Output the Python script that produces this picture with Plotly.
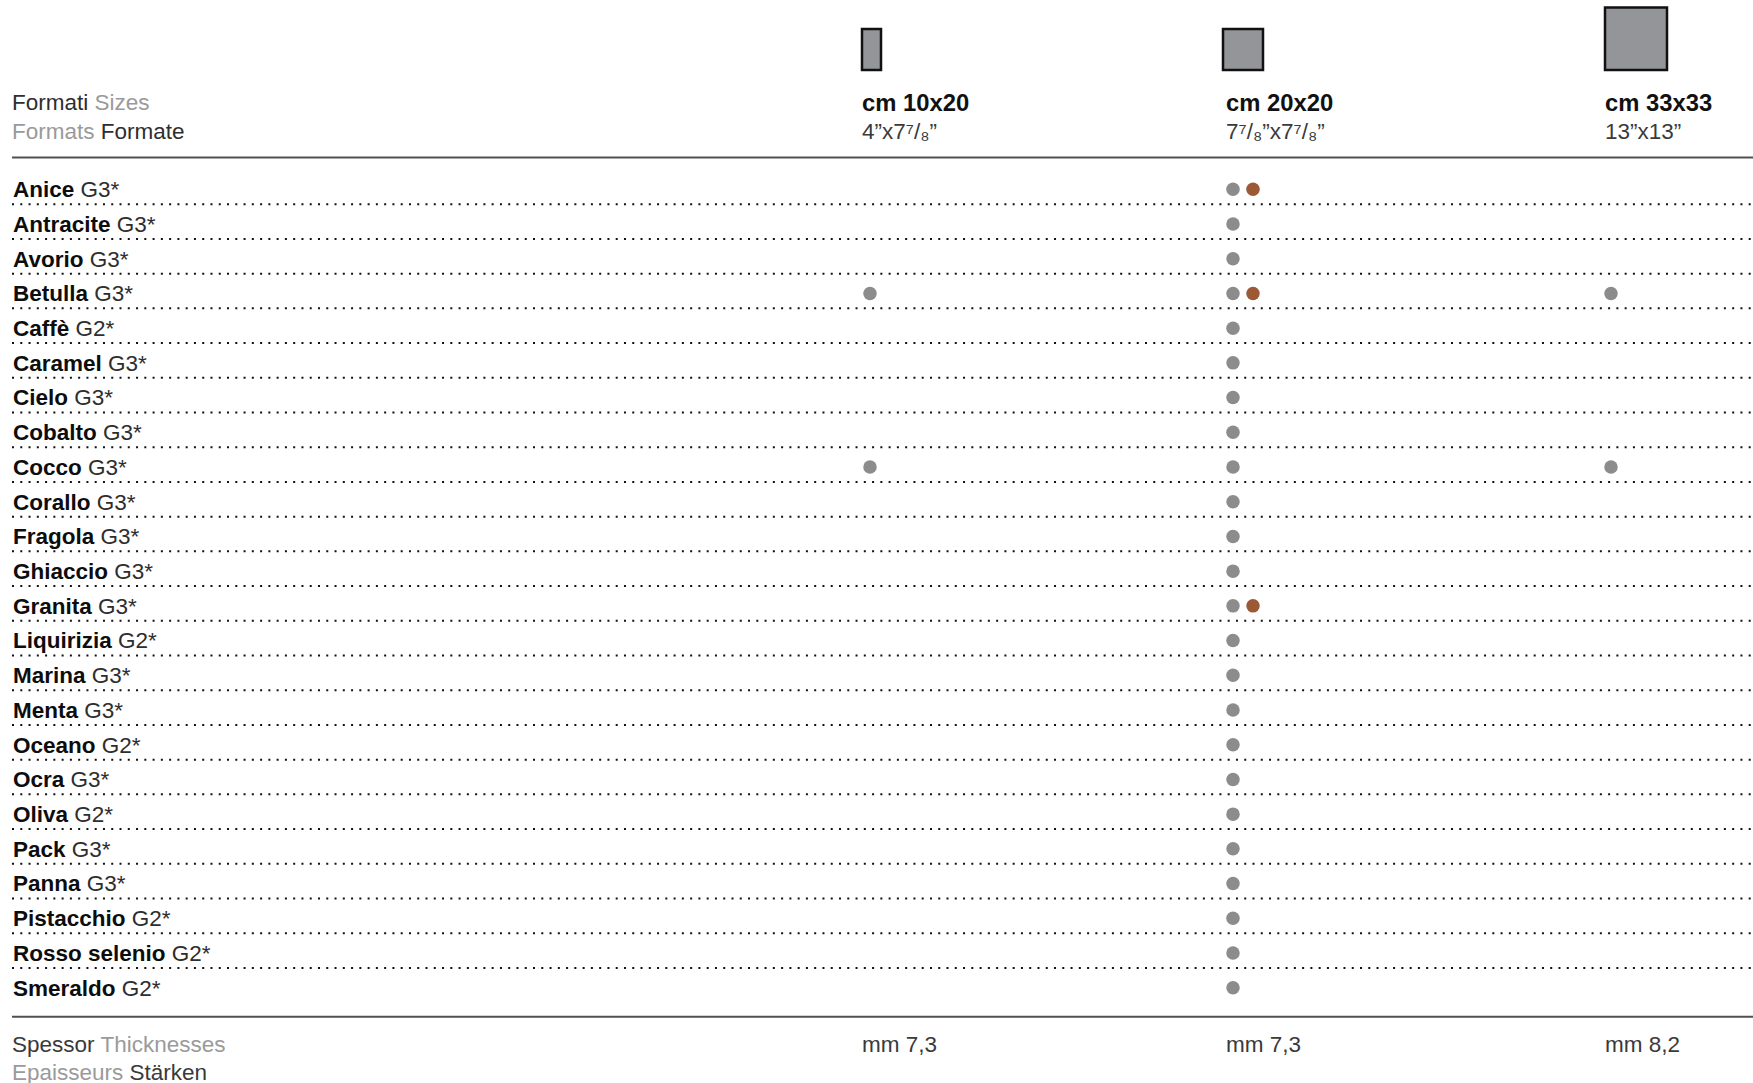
import plotly.graph_objects as go

# ---------------- data ----------------
colours = ["Anice", "Antracite", "Avorio", "Betulla", "Caffè", "Caramel", "Cielo",
           "Cobalto", "Cocco", "Corallo", "Fragola", "Ghiaccio", "Granita",
           "Liquirizia", "Marina", "Menta", "Oceano", "Ocra", "Oliva", "Pack",
           "Panna", "Pistacchio", "Rosso selenio", "Smeraldo"]
grades = ["G3*", "G3*", "G3*", "G3*", "G2*", "G3*", "G3*",
          "G3*", "G3*", "G3*", "G3*", "G3*", "G3*",
          "G2*", "G3*", "G3*", "G2*", "G3*", "G2*", "G3*",
          "G3*", "G2*", "G2*", "G2*"]
formats = ["cm 10x20", "cm 20x20", "cm 33x33"]
formats_inch = ["4”x7⁷/₈”", "7⁷/₈”x7⁷/₈”", "13”x13”"]
thicknesses = ["mm 7,3", "mm 7,3", "mm 8,2"]
avail_10x20 = ["Betulla", "Cocco"]
avail_20x20 = list(colours)
avail_20x20_alt = ["Anice", "Betulla", "Granita"]
avail_33x33 = ["Betulla", "Cocco"]

# ---------------- layout / style ----------------
W, H = 1753, 1083
FONT = "Liberation Sans, Arial, Helvetica, sans-serif"
DARK = "#1a1a1a"
MID = "#2e2e2e"
LIGHT = "#9a9a9a"
DOT_GREY = "#8c8c8c"
DOT_BROWN = "#9b5a35"
FS = 22.5

col_dot_x = [870, 1233, 1611]      # column anchors (pixel units on x axis)
col_text_x = [862, 1226, 1605]
alt_offset = 20
icon_boxes = [(862, 881, 29, 70), (1223, 1263, 29, 70), (1605, 1667, 7.5, 70)]

first_row_px, row_step_px = 189.3, 34.713
y_top = -first_row_px / row_step_px
y_bot = y_top + H / row_step_px


def py(y):
    return 1 - y / H


fig = go.Figure()

series = [
    (avail_10x20, 0, 0, DOT_GREY),
    (avail_20x20, 1, 0, DOT_GREY),
    (avail_20x20_alt, 1, alt_offset, DOT_BROWN),
    (avail_33x33, 2, 0, DOT_GREY),
]
for names, ci, off, col in series:
    fig.add_trace(go.Scatter(
        x=[col_dot_x[ci] + off] * len(names), y=names, mode="markers",
        marker=dict(size=13.5, color=col, line=dict(width=0)),
        showlegend=False, hoverinfo="y",
    ))

shapes = []
# dotted separators between rows
for i in range(len(colours) - 1):
    shapes.append(dict(type="line", xref="x", yref="y", x0=12, x1=W,
                       y0=i + 0.43, y1=i + 0.43,
                       line=dict(color="#111111", width=2, dash="2px,6.27px")))
# header / footer rules
for yy in (157.5, 1016.7):
    shapes.append(dict(type="line", xref="x", yref="paper", x0=12, x1=W,
                       y0=py(yy), y1=py(yy), line=dict(color="#505050", width=2)))
# format icons
for (x0, x1, y0, y1) in icon_boxes:
    shapes.append(dict(type="rect", xref="x", yref="paper", x0=x0, x1=x1,
                       y0=py(y1), y1=py(y0), fillcolor="#939598",
                       line=dict(color="#111111", width=2.5)))

ann = []


def text(x, y, s, size=FS, color=DARK):
    ann.append(dict(x=x, y=py(y), xref="x", yref="paper", text=s, showarrow=False,
                    xanchor="left", yanchor="middle", align="left",
                    font=dict(family=FONT, size=size, color=color)))


text(10, 103, f"Formati <span style='color:{LIGHT}'>Sizes</span>", color=MID)
text(10, 132, f"<span style='color:{LIGHT}'>Formats</span> Formate", color=MID)
for i in range(3):
    text(col_text_x[i] - 2, 103, f"<b>{formats[i]}</b>", size=23.8, color="#111111")
    text(col_text_x[i] - 2, 132, formats_inch[i], color="#3a3a3a")
    text(col_text_x[i] - 2, 1044, thicknesses[i], color="#3a3a3a")
text(10, 1044, f"Spessor <span style='color:{LIGHT}'>Thicknesses</span>", color="#3a3a3a")
text(10, 1072, f"<span style='color:{LIGHT}'>Epaisseurs</span> Stärken", color="#3a3a3a")

fig.update_layout(
    width=W, height=H, margin=dict(l=0, r=0, t=0, b=0),
    paper_bgcolor="white", plot_bgcolor="white",
    shapes=shapes, annotations=ann, showlegend=False,
    xaxis=dict(range=[0, W], visible=False, fixedrange=True),
    yaxis=dict(type="category", categoryorder="array", categoryarray=colours,
               range=[y_bot, y_top], showgrid=False, zeroline=False,
               showline=False, ticks="", ticklabelposition="inside",
               ticklabelstandoff=10,
               tickvals=colours,
               ticktext=[f"<b>{c}</b> <span style='color:{MID}'>{g}</span>"
                         for c, g in zip(colours, grades)],
               tickfont=dict(family=FONT, size=FS, color="#0d0d0d"),
               fixedrange=True),
)

fig.write_html(
    "out.html",
    config={"displayModeBar": False},
    post_script="document.body.style.margin='0';document.body.style.overflow='hidden';",
)
